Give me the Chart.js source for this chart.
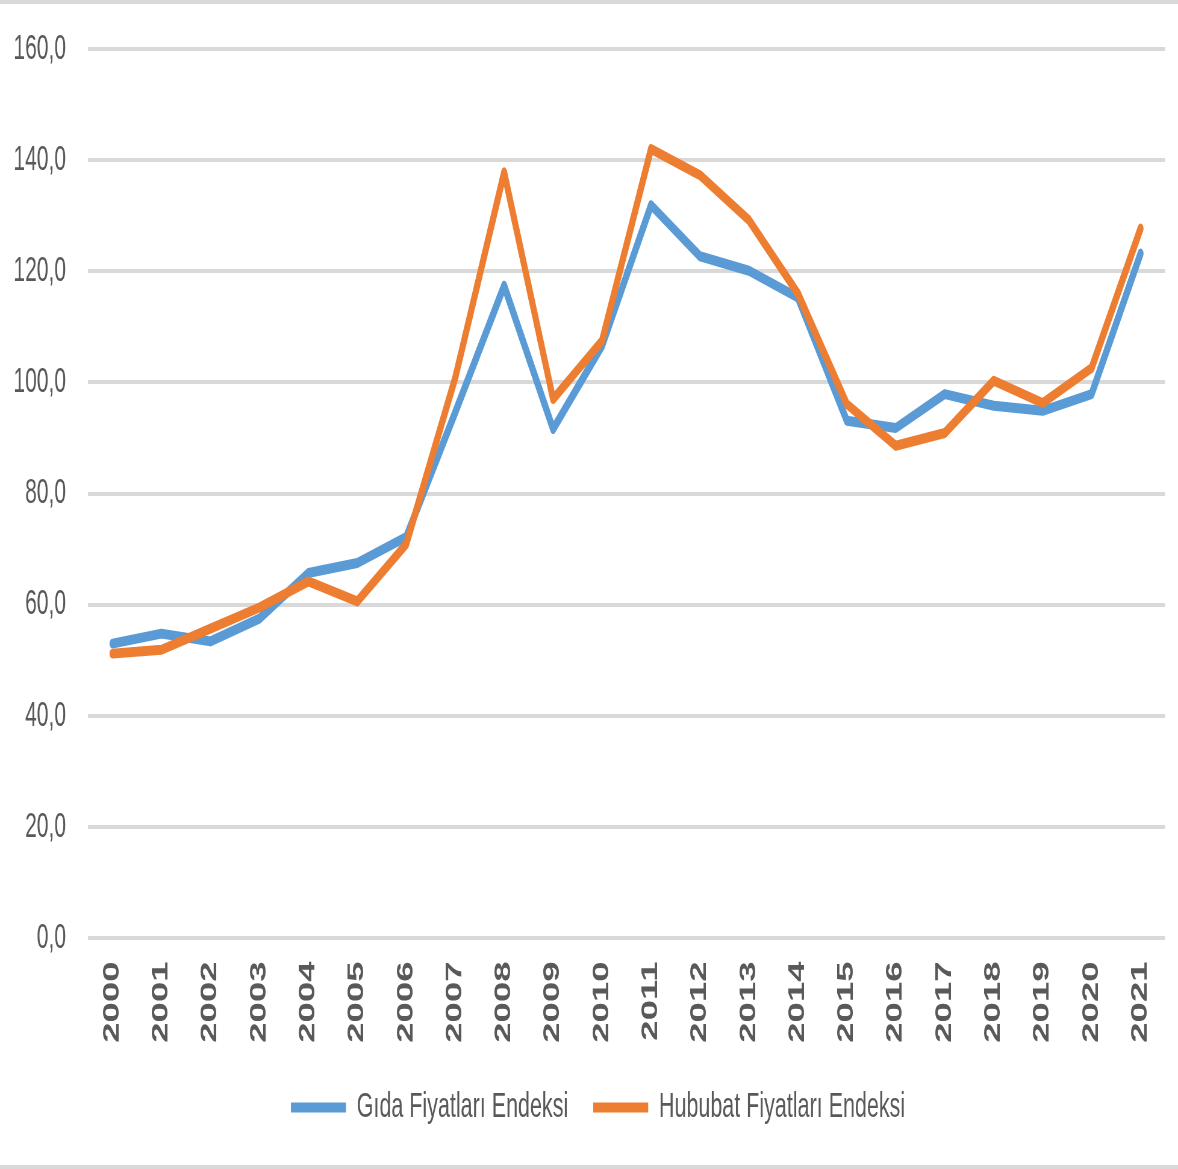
<!DOCTYPE html>
<html>
<head>
<meta charset="utf-8">
<script src="https://cdn.jsdelivr.net/npm/chart.js@4.4.1/dist/chart.umd.min.js"></script>
<style>
  html, body { margin: 0; padding: 0; background: #fff; }
  #page { position: relative; width: 1178px; height: 1169px; overflow: hidden; }
  #wrap { position: absolute; left: 0; top: 0; width: 1178px; height: 704px; transform: scaleY(1.6605); transform-origin: 0 0; }
  .edge { position: absolute; left: 0; width: 1178px; height: 4px; background: #d9d9d9; }
</style>
</head>
<body>
<div id="page">
  <div id="wrap"><canvas id="chart"></canvas></div>
  <div class="edge" style="top:0"></div>
  <div class="edge" style="top:1165px"></div>
</div>
<script>
const yillar = ['2000', '2001', '2002', '2003', '2004', '2005', '2006', '2007', '2008', '2009', '2010',
    '2011', '2012', '2013', '2014', '2015', '2016', '2017', '2018', '2019', '2020', '2021'];

const gidaEndeksi = [53.0, 54.8, 53.4, 57.5, 65.7, 67.5, 72.2, 94.6, 117.4, 91.6, 106.6,
    131.9, 122.7, 120.1, 115.3, 93.1, 91.8, 97.9, 95.8, 94.9, 97.9, 123.2];

const hububatEndeksi = [51.2, 51.9, 55.7, 59.5, 64.2, 60.6, 70.9, 100.8, 137.8, 97.0, 107.5,
    142.0, 137.3, 129.2, 116.0, 96.1, 88.6, 90.9, 100.3, 96.3, 102.6, 127.7];

const yMin = 0;
const yMax = 160;
const yAdim = 20;

function formatSayi(v) {
    return v.toFixed(1).replace('.', ',');
}

// legend biraz saga kaysin (grafik alanina gore ortalanmis gibi)
const legendKaydir = {
    id: 'legendKaydir',
    afterLayout(chart) {
        if (chart.legend) {
            chart.legend.left += 15.5;
            chart.legend.right += 15.5;
        }
    }
};

const ctx = document.getElementById('chart').getContext('2d');
new Chart(ctx, {
    type: 'line',
    data: {
        labels: yillar,
        datasets: [{
            label: 'Gıda Fiyatları Endeksi',
            data: gidaEndeksi,
            borderColor: '#5B9BD5',
            backgroundColor: '#5B9BD5',
            borderWidth: 6,
            pointRadius: 0,
            borderJoinStyle: 'round',
            borderCapStyle: 'round',
            tension: 0,
            fill: false,
            order: 1
        }, {
            label: 'Hububat Fiyatları Endeksi',
            data: hububatEndeksi,
            borderColor: '#ED7D31',
            backgroundColor: '#ED7D31',
            borderWidth: 6,
            pointRadius: 0,
            borderJoinStyle: 'round',
            borderCapStyle: 'round',
            tension: 0,
            fill: false,
            order: 0
        }]
    },
    plugins: [legendKaydir],
    options: {
        responsive: true,
        maintainAspectRatio: false,
        animation: false,
        devicePixelRatio: 1.6605,
        layout: {
            padding: { top: 29.5, left: 0, right: 13, bottom: 16.25 }
        },
        plugins: {
            tooltip: { enabled: false },
            legend: {
                position: 'bottom',
                labels: {
                    usePointStyle: true,
                    pointStyle: 'line',
                    pointStyleWidth: 55,
                    color: '#595959',
                    font: { family: 'Liberation Sans', size: 21.5 },
                    padding: 25,
                    sort: (a, b) => a.datasetIndex - b.datasetIndex
                }
            }
        },
        scales: {
            x: {
                offset: true,
                grid: { display: false, drawTicks: false },
                border: { display: false },
                ticks: {
                    color: '#595959',
                    font: { family: 'Liberation Sans', size: 22, weight: 'bold', lineHeight: 1 },
                    minRotation: 90,
                    maxRotation: 90,
                    padding: 14,
                    autoSkip: false
                },
                afterFit: (scale) => { scale.height = 66.25; }
            },
            y: {
                min: yMin,
                max: yMax,
                grid: {
                    color: '#d9d9d9',
                    lineWidth: 2.4,
                    drawTicks: true,
                    tickLength: 22,
                    tickColor: 'rgba(0,0,0,0)'
                },
                border: { display: false },
                ticks: {
                    stepSize: yAdim,
                    color: '#595959',
                    font: { family: 'Liberation Sans', size: 21 },
                    padding: 0,
                    callback: (v) => formatSayi(v)
                },
                afterFit: (scale) => { scale.width = 88; }
            }
        }
    }
});
</script>
</body>
</html>
